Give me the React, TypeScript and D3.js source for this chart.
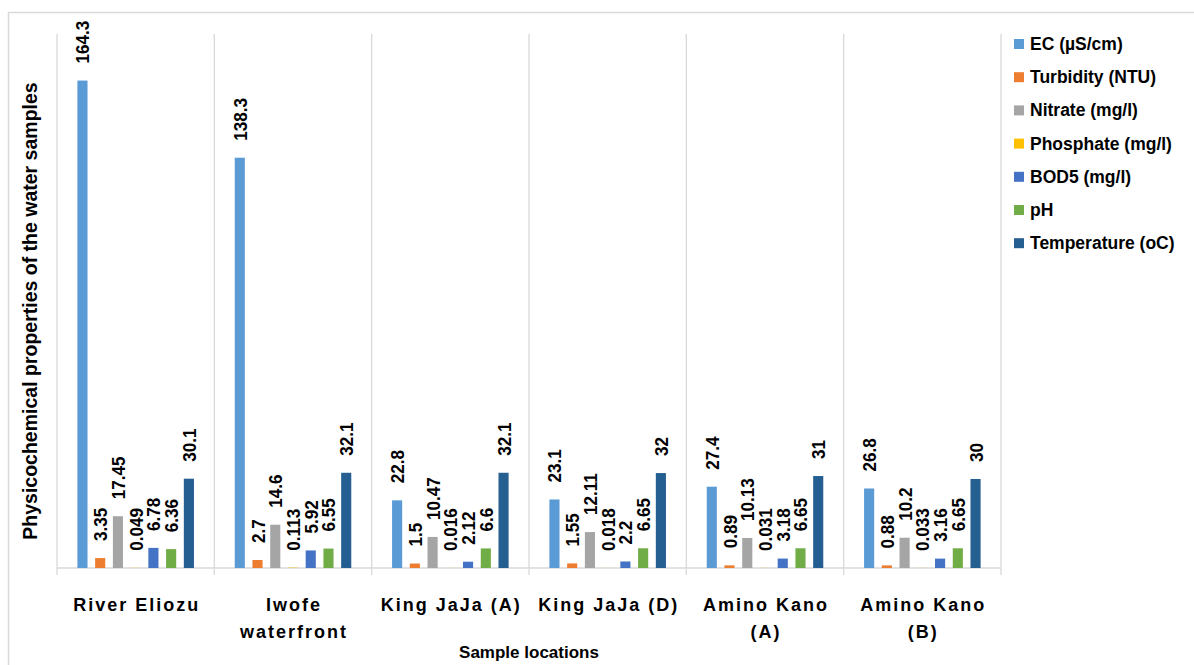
import React, { useEffect, useRef } from 'react';
import * as d3 from 'd3';

const locations = ['River Eliozu', 'Iwofe waterfront', 'King JaJa (A)', 'King JaJa (D)', 'Amino Kano (A)', 'Amino Kano (B)'];
const locationLines = [['River Eliozu'], ['Iwofe', 'waterfront'], ['King JaJa (A)'], ['King JaJa (D)'], ['Amino Kano', '(A)'], ['Amino Kano', '(B)']];

const seriesNames = ['EC (µS/cm)', 'Turbidity (NTU)', 'Nitrate (mg/l)', 'Phosphate (mg/l)', 'BOD5 (mg/l)', 'pH', 'Temperature (oC)'];
const seriesColors = ['#5B9BD5', '#ED7D31', '#A5A5A5', '#FFC000', '#4472C4', '#70AD47', '#255E91'];

const ec = [164.3, 138.3, 22.8, 23.1, 27.4, 26.8];
const turbidity = [3.35, 2.7, 1.5, 1.55, 0.89, 0.88];
const nitrate = [17.45, 14.6, 10.47, 12.11, 10.13, 10.2];
const phosphate = [0.049, 0.113, 0.016, 0.018, 0.031, 0.033];
const bod5 = [6.78, 5.92, 2.12, 2.2, 3.18, 3.16];
const ph = [6.36, 6.55, 6.6, 6.65, 6.65, 6.65];
const temperature = [30.1, 32.1, 32.1, 32, 31, 30];

const seriesValues = [ec, turbidity, nitrate, phosphate, bod5, ph, temperature];

const W = 1194;
const H = 665;
const plot = { left: 57, right: 1001, top: 34, bottom: 568 };

const font = "'Liberation Sans', Arial, sans-serif";

const App: React.FC = () => {
  const svgRef = useRef<SVGSVGElement>(null);

  useEffect(() => {
    if (!svgRef.current) return;
    const svg = d3.select(svgRef.current);
    svg.selectAll('*').remove();

    // chart border
    svg.append('rect')
      .attr('x', 8.5).attr('y', 12.5)
      .attr('width', W + 20).attr('height', H + 20)
      .attr('fill', '#fff')
      .attr('stroke', '#d9d9d9')
      .attr('stroke-width', 1.5);

    const x0 = d3.scaleBand<string>()
      .domain(locations)
      .range([plot.left, plot.right])
      .paddingInner(0)
      .paddingOuter(0);

    const x1 = d3.scaleBand<string>()
      .domain(seriesNames)
      .range([0, x0.bandwidth()])
      .paddingInner(0.43)
      .paddingOuter(1.15);

    const y = d3.scaleLinear().domain([0, 180]).range([plot.bottom, plot.top]);

    // vertical separators
    const bounds = locations.map(l => x0(l) as number).concat([plot.right]);
    svg.append('g')
      .selectAll('line')
      .data(bounds)
      .join('line')
      .attr('x1', d => d).attr('x2', d => d)
      .attr('y1', plot.top).attr('y2', plot.bottom + 7)
      .attr('stroke', '#d9d9d9')
      .attr('stroke-width', 1.3);

    // baseline
    svg.append('line')
      .attr('x1', plot.left).attr('x2', plot.right)
      .attr('y1', plot.bottom).attr('y2', plot.bottom)
      .attr('stroke', '#d9d9d9')
      .attr('stroke-width', 1.6);

    // bars + value labels
    const groups = svg.append('g')
      .selectAll('g')
      .data(locations)
      .join('g')
      .attr('transform', d => `translate(${x0(d)},0)`);

    groups.each(function (loc, i) {
      const g = d3.select(this);
      seriesNames.forEach((s, k) => {
        const v = seriesValues[k][i];
        const bx = x1(s) as number;
        g.append('rect')
          .attr('x', bx)
          .attr('y', y(v))
          .attr('width', x1.bandwidth())
          .attr('height', plot.bottom - y(v))
          .attr('fill', seriesColors[k]);
        const cx = bx + x1.bandwidth() / 2;
        g.append('text')
          .attr('transform', `translate(${cx + 7},${y(v) - 17}) rotate(-90) scale(0.9,1)`)
          .attr('text-anchor', 'start')
          .attr('font-family', font)
          .attr('font-weight', 'bold')
          .attr('font-size', 19)
          .attr('fill', '#000')
          .text(String(v));
      });
    });

    // category labels
    locationLines.forEach((lines, i) => {
      const cx = (x0(locations[i]) as number) + x0.bandwidth() / 2;
      lines.forEach((ln, j) => {
        svg.append('text')
          .attr('x', cx + 1)
          .attr('y', 611 + j * 27)
          .attr('text-anchor', 'middle')
          .attr('font-family', font)
          .attr('font-weight', 'bold')
          .attr('font-size', 18)
          .attr('letter-spacing', 2)
          .attr('fill', '#000')
          .text(ln);
      });
    });

    // axis titles
    svg.append('text')
      .attr('x', (plot.left + plot.right) / 2)
      .attr('y', 658)
      .attr('text-anchor', 'middle')
      .attr('font-family', font)
      .attr('font-weight', 'bold')
      .attr('font-size', 17)
      .attr('fill', '#000')
      .text('Sample locations');

    svg.append('text')
      .attr('transform', `translate(37,${(plot.top + plot.bottom) / 2 + 10}) rotate(-90)`)
      .attr('text-anchor', 'middle')
      .attr('font-family', font)
      .attr('font-weight', 'bold')
      .attr('font-size', 19.5)
      .attr('fill', '#000')
      .text('Physicochemical properties of the water samples');

    // legend
    const legend = svg.append('g').attr('transform', 'translate(1014,44)');
    seriesNames.forEach((s, k) => {
      const row = legend.append('g').attr('transform', `translate(0,${k * 33.2})`);
      row.append('rect')
        .attr('x', 0).attr('y', -5)
        .attr('width', 10).attr('height', 10)
        .attr('fill', seriesColors[k]);
      row.append('text')
        .attr('x', 16).attr('y', 6)
        .attr('font-family', font)
        .attr('font-weight', 'bold')
        .attr('font-size', 17.5)
        .attr('fill', '#000')
        .text(s);
    });
  }, []);

  return (
    <svg ref={svgRef} width={W} height={H} style={{ position: 'absolute', left: 0, top: 0, background: '#fff' }} />
  );
};

export default App;
